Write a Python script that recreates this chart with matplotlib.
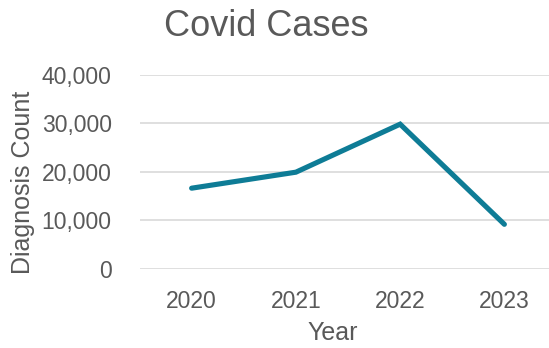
import matplotlib
matplotlib.use("Agg")
import matplotlib.pyplot as plt
from matplotlib.ticker import FuncFormatter

years = ["2020", "2021", "2022", "2023"]
cases = [16600, 19900, 29800, 9150]
yticks = [0, 10000, 20000, 30000, 40000]

plt.rcParams['font.family'] = ['Liberation Sans', 'DejaVu Sans']
gray = '#595959'

fig = plt.figure(figsize=(5.49, 3.48), dpi=100)
ax = fig.add_axes([139.5/549, 79.3/348, 417/549, 194/348])

x = list(range(len(years)))
ax.plot(x, cases, color='#0E7C96', lw=3.7, solid_capstyle='round', solid_joinstyle='miter', zorder=3)

ax.set_xlim(-0.5, len(years) - 0.5)
ax.set_ylim(0, 40000)
ax.set_yticks(yticks)
ax.yaxis.set_major_formatter(FuncFormatter(lambda v, p: f"{int(v):,}"))
ax.set_xticks(x)
ax.set_xticklabels(years)
ax.grid(axis='y', color='#D9D9D9', lw=1.2, zorder=0)
ax.set_axisbelow(True)
for s in ax.spines.values():
    s.set_visible(False)
ax.tick_params(axis='both', length=0, labelsize=16.5, labelcolor=gray)
ax.tick_params(axis='y', pad=20)
ax.tick_params(axis='x', pad=15)

fig.text(266/549, 1 - 36/348, "Covid Cases", ha='center', va='baseline', fontsize=26, color=gray)
fig.text(333/549, 3/348, "Year", ha='center', va='bottom', fontsize=18, color=gray)
fig.text(23/549, 1 - 182.5/348, "Diagnosis Count", ha='center', va='center', rotation=90, fontsize=18, color=gray)

fig.savefig("out.png", dpi=100)
